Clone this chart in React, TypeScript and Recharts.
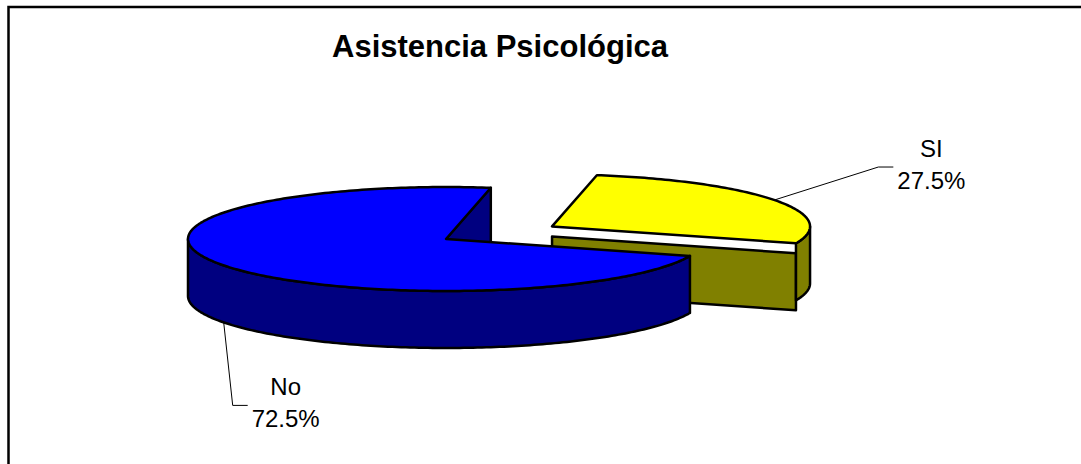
import { Pie, PieChart } from "recharts";

// Asistencia Psicológica — 3D-looking exploded pie, like the old Excel chart
const categories = ["SI", "No"];
const counts = [11, 29];
const topColors = ["#FFFF00", "#0000FF"];
const sideColors = ["#808000", "#000080"];

const pieData = categories.map((name, i) => ({
  name,
  value: counts[i],
  fill: topColors[i],
}));

const W = 1081;
const H = 464;
const CX = 446;
const CY = 239;
const RADIUS = 258;
const TILT = 52 / 258; // vertical squash of the ellipse
const DEPTH = 57;
const SPLIT_GAP = 10; // Excel leaves a white band above the cut face of the pulled slice
const FONT = "'Liberation Sans', Arial, sans-serif";

const explode: Record<string, number> = { SI: 0.477 };

// where the label text sits relative to its anchor on the rim
const labelLayout: Record<string, { dx: number; dy: number }> = {
  SI: { dx: 157, dy: -43 },
  No: { dx: 62, dy: 73 },
};

const rad = (deg: number) => (deg * Math.PI) / 180;

const explodeOffset = (name: string, midAngle: number, r: number) => {
  const k = explode[name] ?? 0;
  return [Math.cos(rad(midAngle)) * r * k, -Math.sin(rad(midAngle)) * r * TILT * k];
};

const Slice3D = (props: any) => {
  const { cx, cy, outerRadius, startAngle, endAngle, midAngle } = props;
  const name: string = props.name ?? props.payload?.name;
  const idx = categories.indexOf(name);
  const rx = outerRadius;
  const ry = outerRadius * TILT;
  const [ox, oy] = explodeOffset(name, midAngle, outerRadius);
  const x0 = cx + ox;
  const y0 = cy + oy;
  const pt = (a: number, dz = 0) => [x0 + rx * Math.cos(rad(a)), y0 - ry * Math.sin(rad(a)) + dz];
  const fmt = (p: number[]) => `${p[0].toFixed(2)},${p[1].toFixed(2)}`;

  const lo = Math.min(startAngle, endAngle);
  const hi = Math.max(startAngle, endAngle);
  const angles: number[] = [];
  for (let a = lo; a < hi; a += 1) angles.push(a);
  angles.push(hi);

  // front part of the rim (the half that faces the viewer)
  const segments: number[][] = [];
  let cur: number[] = [];
  angles.forEach((a) => {
    if (Math.sin(rad(a)) <= 1e-9) cur.push(a);
    else if (cur.length) {
      segments.push(cur);
      cur = [];
    }
  });
  if (cur.length) segments.push(cur);

  const gap = explode[name] ? SPLIT_GAP : 0;
  const radial = (a: number) => {
    const c = [x0, y0 + gap];
    const p = pt(a, gap);
    return [c, p, [p[0], p[1] + DEPTH], [c[0], c[1] + DEPTH]].map(fmt).join(" ");
  };
  const walls: string[] = [];
  if (Math.cos(rad(hi)) < 0) walls.push(radial(hi));
  if (Math.cos(rad(lo)) > 0) walls.push(radial(lo));

  const side = sideColors[idx];
  const line = { stroke: "#000", strokeWidth: 2.5, strokeLinejoin: "round" as const };

  return (
    <g>
      {walls.map((w, i) => (
        <polygon key={`wall-${i}`} points={w} fill={side} {...line} />
      ))}
      {segments.map((seg, i) => {
        const top = seg.map((a) => fmt(pt(a)));
        const bottom = seg
          .slice()
          .reverse()
          .map((a) => fmt(pt(a, DEPTH)));
        return <polygon key={`rim-${i}`} points={[...top, ...bottom].join(" ")} fill={side} {...line} />;
      })}
      <polygon
        points={[fmt([x0, y0]), ...angles.map((a) => fmt(pt(a)))].join(" ")}
        fill={topColors[idx]}
        {...line}
      />
    </g>
  );
};

const renderLabel = (props: any) => {
  const { cx, cy, midAngle, outerRadius, percent, name } = props;
  const [ox, oy] = explodeOffset(name, midAngle, outerRadius);
  const ry = outerRadius * TILT;
  const s = Math.sin(rad(midAngle));
  const ax = cx + ox + outerRadius * Math.cos(rad(midAngle));
  const ay = cy + oy - ry * s + (s < 0 ? DEPTH : 0);
  const layout = labelLayout[name];
  const tx = ax + layout.dx;
  const ty = ay + layout.dy;
  const pts = [
    [ax, ay],
    [tx - 53, ty + 10],
    [tx - 38, ty + 10],
  ]
    .map((p) => p.join(","))
    .join(" ");
  return (
    <g key={`label-${name}`}>
      <polyline points={pts} fill="none" stroke="#000" strokeWidth={1} />
      <text x={tx} y={ty} textAnchor="middle" fontFamily={FONT} fontSize={24} fill="#000">
        <tspan x={tx}>{name}</tspan>
        <tspan x={tx} dy={32}>
          {`${(percent * 100).toFixed(1)}%`}
        </tspan>
      </text>
    </g>
  );
};

export default function App() {
  return (
    <div style={{ position: "absolute", left: 0, top: 0, width: W, height: H, overflow: "hidden", background: "#fff" }}>
      <svg width={W} height={H} style={{ position: "absolute", left: 0, top: 0 }}>
        <path d={`M8.5 ${H} L8.5 7 L${W} 7`} fill="none" stroke="#000" strokeWidth={2.5} />
        <text x={500} y={57} textAnchor="middle" fontFamily={FONT} fontWeight="bold" fontSize={31} fill="#000">
          Asistencia Psicológica
        </text>
      </svg>
      <div style={{ position: "absolute", left: 0, top: 0 }}>
        <PieChart width={W} height={H} margin={{ top: 0, right: 0, bottom: 0, left: 0 }}>
          <Pie
            data={pieData}
            dataKey="value"
            nameKey="name"
            cx={CX}
            cy={CY}
            outerRadius={RADIUS}
            startAngle={80}
            endAngle={-280}
            stroke="#000"
            shape={Slice3D}
            inactiveShape={Slice3D}
            activeShape={Slice3D}
            label={renderLabel}
            labelLine={false}
            isAnimationActive={false}
          />
        </PieChart>
      </div>
    </div>
  );
}
